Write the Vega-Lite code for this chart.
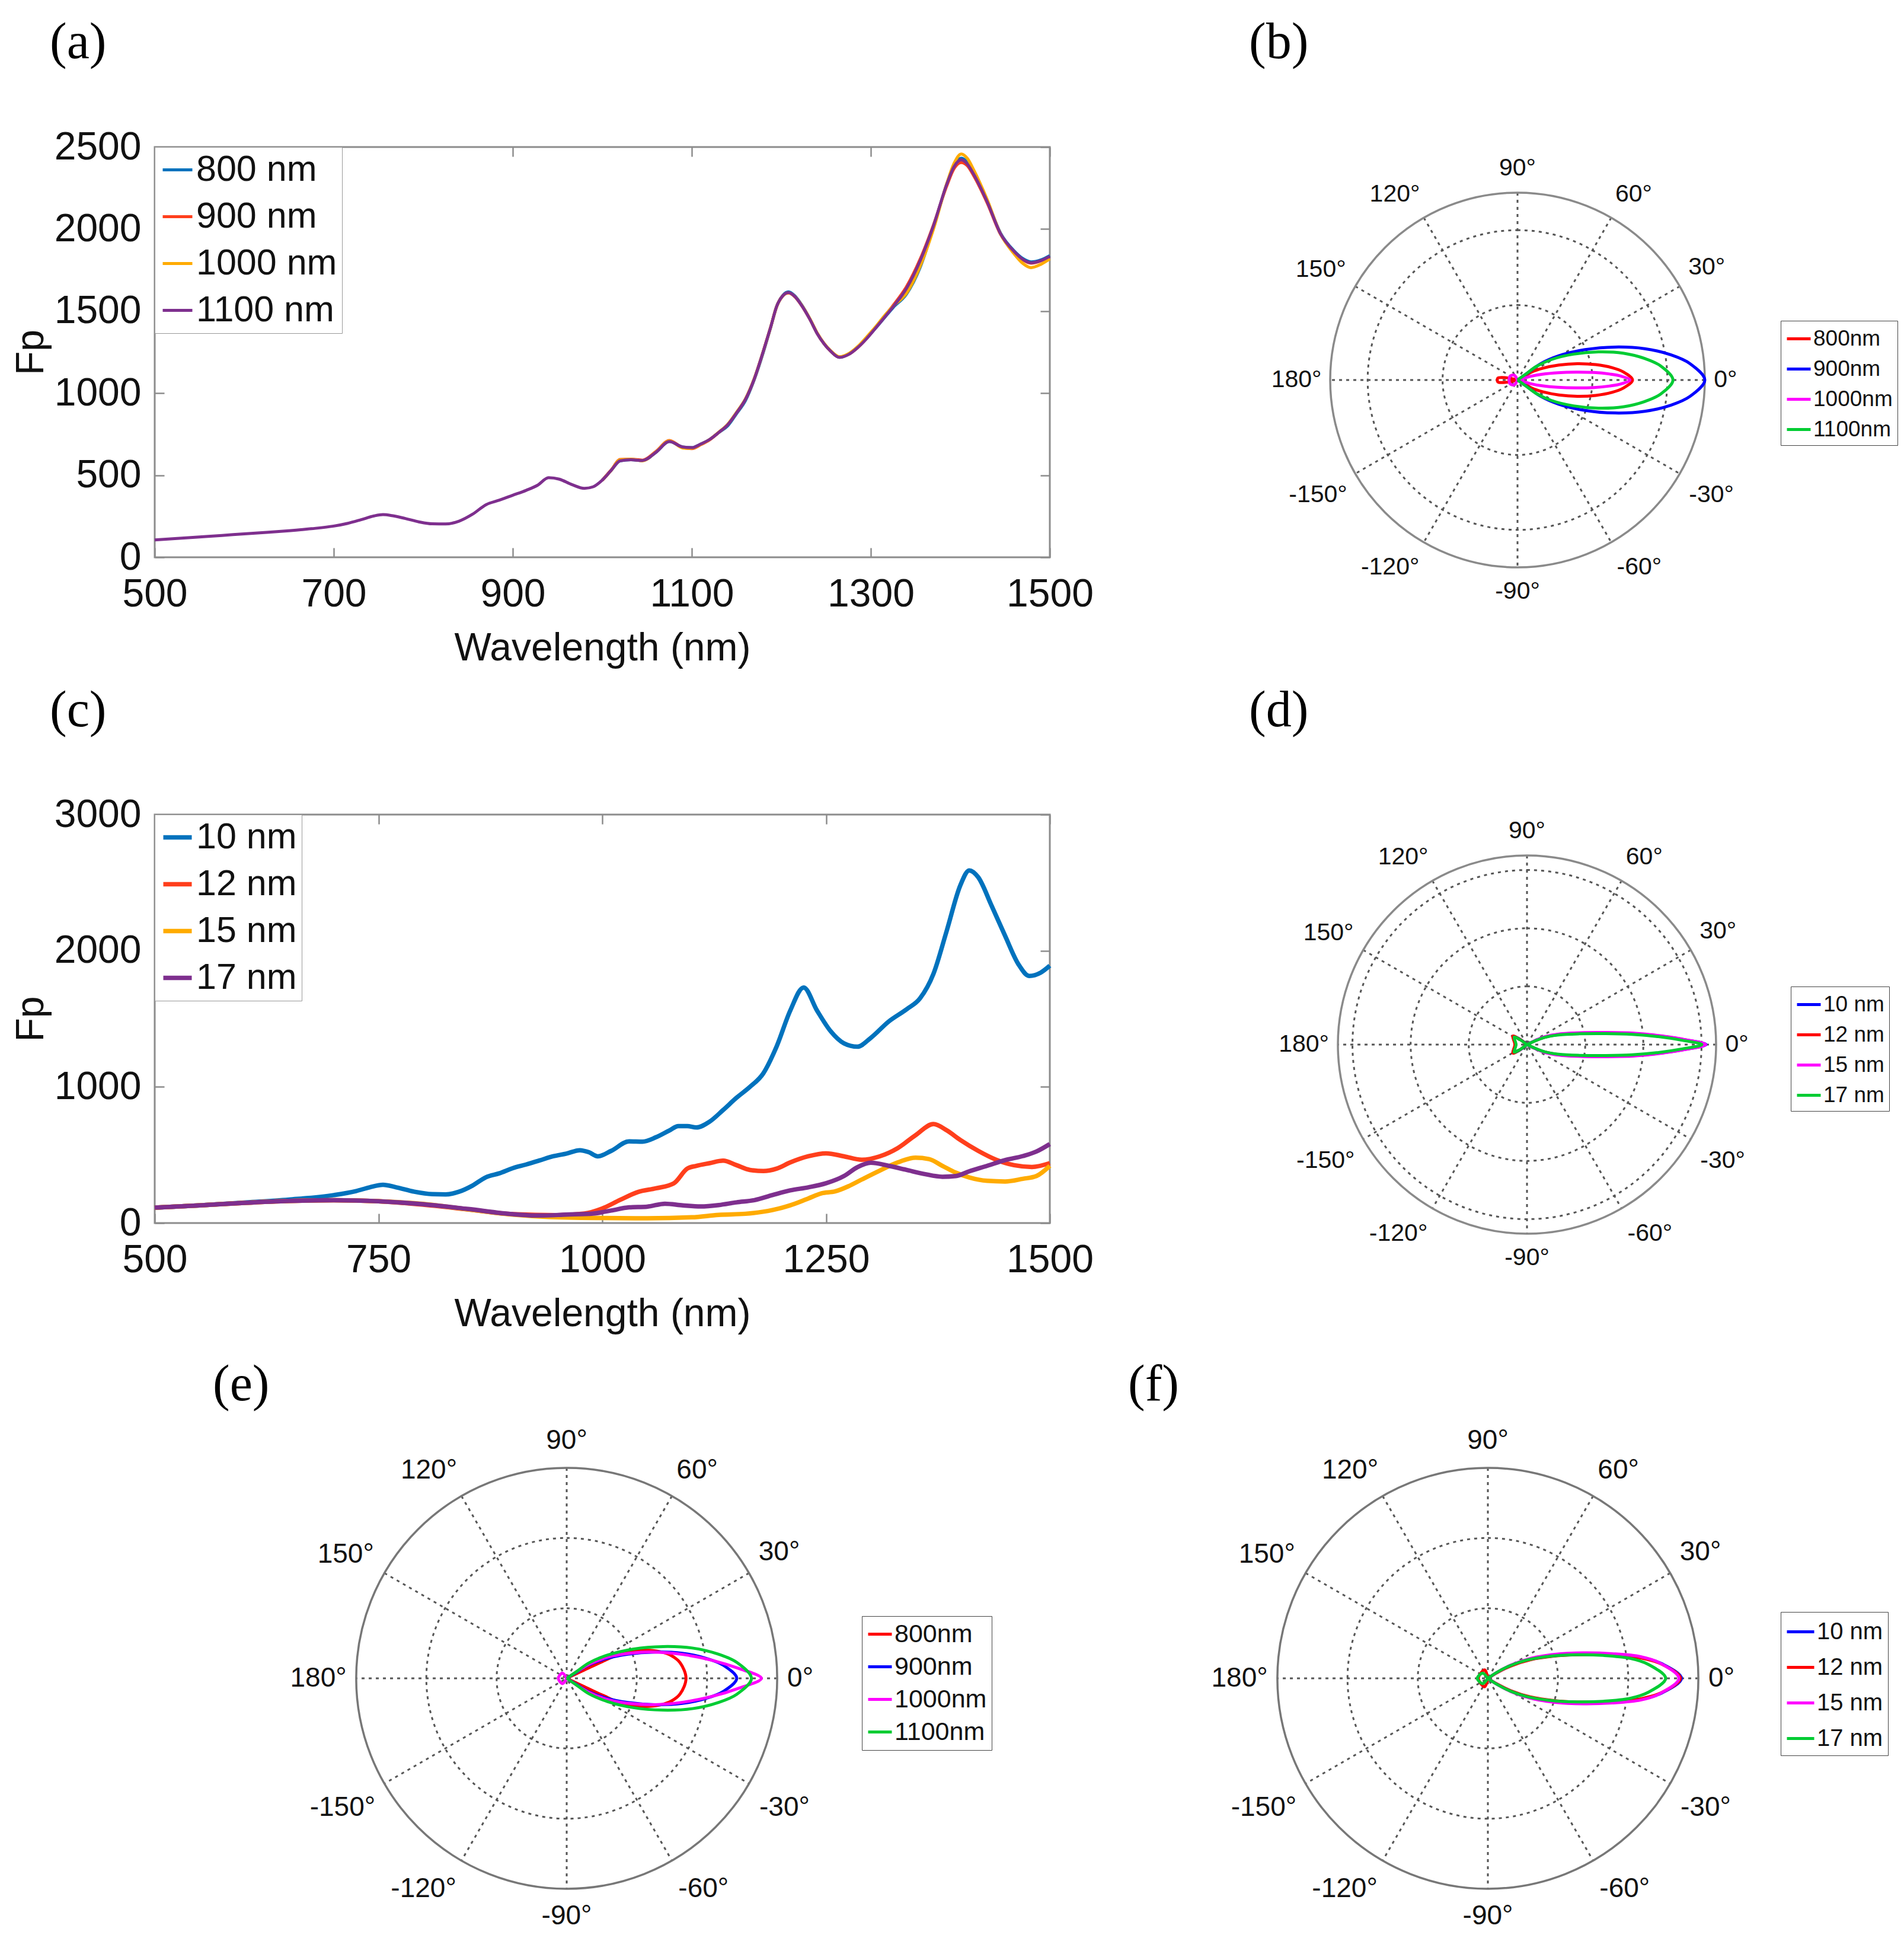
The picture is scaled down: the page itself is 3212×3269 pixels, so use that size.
{
  "$schema": "https://vega.github.io/schema/vega-lite/v6.json",
  "background": "#ffffff",
  "padding": {"left": 17, "top": 27, "right": 0, "bottom": 0},
  "config": {
    "font": "Liberation Sans",
    "view": {"stroke": null},
    "axis": {"labelFont": "Liberation Sans", "titleFont": "Liberation Sans"},
    "legend": {"labelFont": "Liberation Sans", "labelLimit": 0}
  },
  "datasets": {
    "la": [
      {"w":1000,"s":"800 nm","f":470},{"w":1010,"s":"800 nm","f":530},{"w":1020,"s":"800 nm","f":588},{"w":1032,"s":"800 nm","f":594},{"w":1045,"s":"800 nm","f":590},{"w":1060,"s":"800 nm","f":640},{"w":1075,"s":"800 nm","f":705},{"w":1090,"s":"800 nm","f":672},{"w":1100,"s":"800 nm","f":668},{"w":1110,"s":"800 nm","f":690},{"w":1120,"s":"800 nm","f":718},{"w":1130,"s":"800 nm","f":760},{"w":1140,"s":"800 nm","f":800},{"w":1150,"s":"800 nm","f":875},{"w":1160,"s":"800 nm","f":955},{"w":1170,"s":"800 nm","f":1085},{"w":1180,"s":"800 nm","f":1250},{"w":1188,"s":"800 nm","f":1398},{"w":1195,"s":"800 nm","f":1531},{"w":1202,"s":"800 nm","f":1598},{"w":1208,"s":"800 nm","f":1618},{"w":1215,"s":"800 nm","f":1594},{"w":1222,"s":"800 nm","f":1545},{"w":1232,"s":"800 nm","f":1452},{"w":1240,"s":"800 nm","f":1365},{"w":1248,"s":"800 nm","f":1300},{"w":1255,"s":"800 nm","f":1257},{"w":1265,"s":"800 nm","f":1218},{"w":1275,"s":"800 nm","f":1238},{"w":1285,"s":"800 nm","f":1280},{"w":1295,"s":"800 nm","f":1333},{"w":1305,"s":"800 nm","f":1394},{"w":1315,"s":"800 nm","f":1458},{"w":1325,"s":"800 nm","f":1522},{"w":1340,"s":"800 nm","f":1605},{"w":1355,"s":"800 nm","f":1765},{"w":1370,"s":"800 nm","f":2010},{"w":1385,"s":"800 nm","f":2275},{"w":1393,"s":"800 nm","f":2385},{"w":1401,"s":"800 nm","f":2432},{"w":1408,"s":"800 nm","f":2405},{"w":1415,"s":"800 nm","f":2340},{"w":1430,"s":"800 nm","f":2170},{"w":1445,"s":"800 nm","f":1975},{"w":1460,"s":"800 nm","f":1868},{"w":1470,"s":"800 nm","f":1820},{"w":1479,"s":"800 nm","f":1800},{"w":1490,"s":"800 nm","f":1812},{"w":1500,"s":"800 nm","f":1838},
      {"w":1000,"s":"900 nm","f":470},{"w":1010,"s":"900 nm","f":532},{"w":1020,"s":"900 nm","f":596},{"w":1032,"s":"900 nm","f":598},{"w":1045,"s":"900 nm","f":592},{"w":1060,"s":"900 nm","f":645},{"w":1075,"s":"900 nm","f":712},{"w":1090,"s":"900 nm","f":668},{"w":1100,"s":"900 nm","f":662},{"w":1110,"s":"900 nm","f":686},{"w":1120,"s":"900 nm","f":716},{"w":1130,"s":"900 nm","f":760},{"w":1140,"s":"900 nm","f":807},{"w":1150,"s":"900 nm","f":880},{"w":1160,"s":"900 nm","f":963},{"w":1170,"s":"900 nm","f":1090},{"w":1180,"s":"900 nm","f":1257},{"w":1188,"s":"900 nm","f":1400},{"w":1195,"s":"900 nm","f":1531},{"w":1202,"s":"900 nm","f":1595},{"w":1208,"s":"900 nm","f":1610},{"w":1215,"s":"900 nm","f":1588},{"w":1222,"s":"900 nm","f":1540},{"w":1232,"s":"900 nm","f":1450},{"w":1240,"s":"900 nm","f":1365},{"w":1248,"s":"900 nm","f":1300},{"w":1255,"s":"900 nm","f":1257},{"w":1265,"s":"900 nm","f":1220},{"w":1275,"s":"900 nm","f":1236},{"w":1285,"s":"900 nm","f":1276},{"w":1295,"s":"900 nm","f":1332},{"w":1305,"s":"900 nm","f":1398},{"w":1315,"s":"900 nm","f":1466},{"w":1325,"s":"900 nm","f":1535},{"w":1340,"s":"900 nm","f":1650},{"w":1355,"s":"900 nm","f":1815},{"w":1370,"s":"900 nm","f":2025},{"w":1385,"s":"900 nm","f":2265},{"w":1393,"s":"900 nm","f":2368},{"w":1401,"s":"900 nm","f":2405},{"w":1408,"s":"900 nm","f":2385},{"w":1415,"s":"900 nm","f":2325},{"w":1430,"s":"900 nm","f":2160},{"w":1445,"s":"900 nm","f":1968},{"w":1460,"s":"900 nm","f":1862},{"w":1470,"s":"900 nm","f":1812},{"w":1479,"s":"900 nm","f":1792},{"w":1490,"s":"900 nm","f":1806},{"w":1500,"s":"900 nm","f":1832},
      {"w":1000,"s":"1000 nm","f":468},{"w":1010,"s":"1000 nm","f":530},{"w":1020,"s":"1000 nm","f":594},{"w":1032,"s":"1000 nm","f":597},{"w":1045,"s":"1000 nm","f":588},{"w":1060,"s":"1000 nm","f":642},{"w":1075,"s":"1000 nm","f":710},{"w":1090,"s":"1000 nm","f":666},{"w":1100,"s":"1000 nm","f":664},{"w":1110,"s":"1000 nm","f":688},{"w":1120,"s":"1000 nm","f":718},{"w":1130,"s":"1000 nm","f":762},{"w":1140,"s":"1000 nm","f":810},{"w":1150,"s":"1000 nm","f":884},{"w":1160,"s":"1000 nm","f":966},{"w":1170,"s":"1000 nm","f":1092},{"w":1180,"s":"1000 nm","f":1257},{"w":1188,"s":"1000 nm","f":1400},{"w":1195,"s":"1000 nm","f":1530},{"w":1202,"s":"1000 nm","f":1594},{"w":1208,"s":"1000 nm","f":1612},{"w":1215,"s":"1000 nm","f":1590},{"w":1222,"s":"1000 nm","f":1543},{"w":1232,"s":"1000 nm","f":1453},{"w":1240,"s":"1000 nm","f":1368},{"w":1248,"s":"1000 nm","f":1302},{"w":1255,"s":"1000 nm","f":1260},{"w":1265,"s":"1000 nm","f":1222},{"w":1275,"s":"1000 nm","f":1240},{"w":1285,"s":"1000 nm","f":1282},{"w":1295,"s":"1000 nm","f":1340},{"w":1305,"s":"1000 nm","f":1402},{"w":1315,"s":"1000 nm","f":1470},{"w":1325,"s":"1000 nm","f":1530},{"w":1340,"s":"1000 nm","f":1610},{"w":1355,"s":"1000 nm","f":1772},{"w":1370,"s":"1000 nm","f":2000},{"w":1385,"s":"1000 nm","f":2280},{"w":1393,"s":"1000 nm","f":2400},{"w":1401,"s":"1000 nm","f":2458},{"w":1408,"s":"1000 nm","f":2430},{"w":1415,"s":"1000 nm","f":2360},{"w":1430,"s":"1000 nm","f":2180},{"w":1445,"s":"1000 nm","f":1970},{"w":1460,"s":"1000 nm","f":1850},{"w":1470,"s":"1000 nm","f":1790},{"w":1479,"s":"1000 nm","f":1765},{"w":1490,"s":"1000 nm","f":1785},{"w":1500,"s":"1000 nm","f":1818},
      {"w":500,"s":"1100 nm","f":106},{"w":525,"s":"1100 nm","f":115},{"w":550,"s":"1100 nm","f":124},{"w":575,"s":"1100 nm","f":133},{"w":600,"s":"1100 nm","f":143},{"w":625,"s":"1100 nm","f":152},{"w":650,"s":"1100 nm","f":162},{"w":675,"s":"1100 nm","f":174},{"w":700,"s":"1100 nm","f":190},{"w":715,"s":"1100 nm","f":206},{"w":730,"s":"1100 nm","f":228},{"w":745,"s":"1100 nm","f":252},{"w":755,"s":"1100 nm","f":260},{"w":765,"s":"1100 nm","f":254},{"w":780,"s":"1100 nm","f":236},{"w":795,"s":"1100 nm","f":216},{"w":810,"s":"1100 nm","f":204},{"w":825,"s":"1100 nm","f":203},{"w":840,"s":"1100 nm","f":220},{"w":855,"s":"1100 nm","f":262},{"w":870,"s":"1100 nm","f":320},{"w":885,"s":"1100 nm","f":348},{"w":900,"s":"1100 nm","f":378},{"w":915,"s":"1100 nm","f":408},{"w":928,"s":"1100 nm","f":440},{"w":940,"s":"1100 nm","f":485},{"w":952,"s":"1100 nm","f":476},{"w":966,"s":"1100 nm","f":443},{"w":980,"s":"1100 nm","f":420},{"w":990,"s":"1100 nm","f":430},
      {"w":1000,"s":"1100 nm","f":470},{"w":1010,"s":"1100 nm","f":530},{"w":1020,"s":"1100 nm","f":588},{"w":1032,"s":"1100 nm","f":594},{"w":1045,"s":"1100 nm","f":590},{"w":1060,"s":"1100 nm","f":640},{"w":1075,"s":"1100 nm","f":705},{"w":1090,"s":"1100 nm","f":672},{"w":1100,"s":"1100 nm","f":668},{"w":1110,"s":"1100 nm","f":690},{"w":1120,"s":"1100 nm","f":718},{"w":1130,"s":"1100 nm","f":760},{"w":1140,"s":"1100 nm","f":807},{"w":1150,"s":"1100 nm","f":880},{"w":1160,"s":"1100 nm","f":963},{"w":1170,"s":"1100 nm","f":1090},{"w":1180,"s":"1100 nm","f":1257},{"w":1188,"s":"1100 nm","f":1400},{"w":1195,"s":"1100 nm","f":1531},{"w":1202,"s":"1100 nm","f":1595},{"w":1208,"s":"1100 nm","f":1613},{"w":1215,"s":"1100 nm","f":1590},{"w":1222,"s":"1100 nm","f":1541},{"w":1232,"s":"1100 nm","f":1450},{"w":1240,"s":"1100 nm","f":1365},{"w":1248,"s":"1100 nm","f":1300},{"w":1255,"s":"1100 nm","f":1257},{"w":1265,"s":"1100 nm","f":1218},{"w":1275,"s":"1100 nm","f":1235},{"w":1285,"s":"1100 nm","f":1276},{"w":1295,"s":"1100 nm","f":1330},{"w":1305,"s":"1100 nm","f":1394},{"w":1315,"s":"1100 nm","f":1460},{"w":1325,"s":"1100 nm","f":1527},{"w":1340,"s":"1100 nm","f":1639},{"w":1355,"s":"1100 nm","f":1805},{"w":1370,"s":"1100 nm","f":2020},{"w":1385,"s":"1100 nm","f":2275},{"w":1393,"s":"1100 nm","f":2380},{"w":1401,"s":"1100 nm","f":2422},{"w":1408,"s":"1100 nm","f":2395},{"w":1415,"s":"1100 nm","f":2334},{"w":1430,"s":"1100 nm","f":2167},{"w":1445,"s":"1100 nm","f":1971},{"w":1460,"s":"1100 nm","f":1864},{"w":1470,"s":"1100 nm","f":1815},{"w":1479,"s":"1100 nm","f":1795},{"w":1490,"s":"1100 nm","f":1808},{"w":1500,"s":"1100 nm","f":1834}
    ],
    "lc": [
      {"w":500,"s":"10 nm","f":113},{"w":550,"s":"10 nm","f":130},{"w":600,"s":"10 nm","f":150},{"w":650,"s":"10 nm","f":172},{"w":700,"s":"10 nm","f":205},{"w":725,"s":"10 nm","f":235},{"w":740,"s":"10 nm","f":262},{"w":755,"s":"10 nm","f":281},{"w":770,"s":"10 nm","f":262},{"w":790,"s":"10 nm","f":230},{"w":810,"s":"10 nm","f":212},{"w":825,"s":"10 nm","f":210},{"w":840,"s":"10 nm","f":230},{"w":855,"s":"10 nm","f":275},{"w":870,"s":"10 nm","f":336},{"w":885,"s":"10 nm","f":365},{"w":900,"s":"10 nm","f":403},{"w":915,"s":"10 nm","f":430},{"w":930,"s":"10 nm","f":460},{"w":945,"s":"10 nm","f":490},{"w":960,"s":"10 nm","f":510},{"w":975,"s":"10 nm","f":535},{"w":985,"s":"10 nm","f":520},{"w":995,"s":"10 nm","f":490},{"w":1010,"s":"10 nm","f":530},{"w":1030,"s":"10 nm","f":600},{"w":1045,"s":"10 nm","f":598},{"w":1060,"s":"10 nm","f":630},{"w":1075,"s":"10 nm","f":680},{"w":1085,"s":"10 nm","f":712},{"w":1095,"s":"10 nm","f":712},{"w":1105,"s":"10 nm","f":702},{"w":1120,"s":"10 nm","f":745},{"w":1135,"s":"10 nm","f":830},{"w":1150,"s":"10 nm","f":920},{"w":1165,"s":"10 nm","f":1000},{"w":1180,"s":"10 nm","f":1100},{"w":1195,"s":"10 nm","f":1300},{"w":1210,"s":"10 nm","f":1560},{"w":1225,"s":"10 nm","f":1730},{"w":1240,"s":"10 nm","f":1560},{"w":1255,"s":"10 nm","f":1410},{"w":1270,"s":"10 nm","f":1320},{"w":1285,"s":"10 nm","f":1295},{"w":1300,"s":"10 nm","f":1360},{"w":1320,"s":"10 nm","f":1480},{"w":1340,"s":"10 nm","f":1570},{"w":1355,"s":"10 nm","f":1650},{"w":1370,"s":"10 nm","f":1830},{"w":1385,"s":"10 nm","f":2150},{"w":1400,"s":"10 nm","f":2480},{"w":1410,"s":"10 nm","f":2590},{"w":1420,"s":"10 nm","f":2540},{"w":1435,"s":"10 nm","f":2330},{"w":1450,"s":"10 nm","f":2110},{"w":1465,"s":"10 nm","f":1900},{"w":1477,"s":"10 nm","f":1815},{"w":1490,"s":"10 nm","f":1840},{"w":1500,"s":"10 nm","f":1890},
      {"w":500,"s":"12 nm","f":113},{"w":550,"s":"12 nm","f":130},{"w":600,"s":"12 nm","f":148},{"w":650,"s":"12 nm","f":162},{"w":700,"s":"12 nm","f":168},{"w":750,"s":"12 nm","f":160},{"w":800,"s":"12 nm","f":135},{"w":850,"s":"12 nm","f":100},{"w":900,"s":"12 nm","f":65},{"w":950,"s":"12 nm","f":58},{"w":980,"s":"12 nm","f":70},{"w":1000,"s":"12 nm","f":107},{"w":1020,"s":"12 nm","f":170},{"w":1040,"s":"12 nm","f":228},{"w":1060,"s":"12 nm","f":255},{"w":1080,"s":"12 nm","f":292},{"w":1095,"s":"12 nm","f":400},{"w":1105,"s":"12 nm","f":420},{"w":1120,"s":"12 nm","f":440},{"w":1135,"s":"12 nm","f":458},{"w":1150,"s":"12 nm","f":425},{"w":1165,"s":"12 nm","f":390},{"w":1180,"s":"12 nm","f":382},{"w":1195,"s":"12 nm","f":400},{"w":1210,"s":"12 nm","f":445},{"w":1230,"s":"12 nm","f":490},{"w":1250,"s":"12 nm","f":512},{"w":1270,"s":"12 nm","f":490},{"w":1290,"s":"12 nm","f":465},{"w":1310,"s":"12 nm","f":490},{"w":1330,"s":"12 nm","f":550},{"w":1350,"s":"12 nm","f":645},{"w":1370,"s":"12 nm","f":727},{"w":1385,"s":"12 nm","f":680},{"w":1400,"s":"12 nm","f":610},{"w":1420,"s":"12 nm","f":530},{"w":1440,"s":"12 nm","f":465},{"w":1460,"s":"12 nm","f":425},{"w":1480,"s":"12 nm","f":412},{"w":1500,"s":"12 nm","f":440},
      {"w":500,"s":"15 nm","f":113},{"w":550,"s":"15 nm","f":130},{"w":600,"s":"15 nm","f":148},{"w":650,"s":"15 nm","f":162},{"w":700,"s":"15 nm","f":168},{"w":750,"s":"15 nm","f":160},{"w":800,"s":"15 nm","f":140},{"w":850,"s":"15 nm","f":100},{"w":900,"s":"15 nm","f":62},{"w":940,"s":"15 nm","f":45},{"w":1000,"s":"15 nm","f":37},{"w":1050,"s":"15 nm","f":35},{"w":1100,"s":"15 nm","f":42},{"w":1130,"s":"15 nm","f":60},{"w":1160,"s":"15 nm","f":68},{"w":1190,"s":"15 nm","f":95},{"w":1210,"s":"15 nm","f":130},{"w":1230,"s":"15 nm","f":180},{"w":1245,"s":"15 nm","f":218},{"w":1260,"s":"15 nm","f":232},{"w":1275,"s":"15 nm","f":270},{"w":1290,"s":"15 nm","f":320},{"w":1310,"s":"15 nm","f":385},{"w":1330,"s":"15 nm","f":445},{"w":1350,"s":"15 nm","f":480},{"w":1365,"s":"15 nm","f":470},{"w":1380,"s":"15 nm","f":420},{"w":1395,"s":"15 nm","f":370},{"w":1410,"s":"15 nm","f":335},{"w":1430,"s":"15 nm","f":310},{"w":1450,"s":"15 nm","f":305},{"w":1470,"s":"15 nm","f":325},{"w":1485,"s":"15 nm","f":345},{"w":1500,"s":"15 nm","f":420},
      {"w":500,"s":"17 nm","f":113},{"w":550,"s":"17 nm","f":130},{"w":600,"s":"17 nm","f":148},{"w":650,"s":"17 nm","f":162},{"w":700,"s":"17 nm","f":168},{"w":750,"s":"17 nm","f":160},{"w":800,"s":"17 nm","f":138},{"w":850,"s":"17 nm","f":103},{"w":900,"s":"17 nm","f":65},{"w":930,"s":"17 nm","f":55},{"w":960,"s":"17 nm","f":62},{"w":990,"s":"17 nm","f":70},{"w":1010,"s":"17 nm","f":92},{"w":1030,"s":"17 nm","f":115},{"w":1050,"s":"17 nm","f":120},{"w":1070,"s":"17 nm","f":142},{"w":1090,"s":"17 nm","f":130},{"w":1110,"s":"17 nm","f":122},{"w":1130,"s":"17 nm","f":132},{"w":1150,"s":"17 nm","f":152},{"w":1170,"s":"17 nm","f":168},{"w":1190,"s":"17 nm","f":205},{"w":1210,"s":"17 nm","f":240},{"w":1230,"s":"17 nm","f":262},{"w":1250,"s":"17 nm","f":292},{"w":1270,"s":"17 nm","f":345},{"w":1285,"s":"17 nm","f":410},{"w":1300,"s":"17 nm","f":443},{"w":1320,"s":"17 nm","f":420},{"w":1340,"s":"17 nm","f":390},{"w":1360,"s":"17 nm","f":360},{"w":1380,"s":"17 nm","f":340},{"w":1395,"s":"17 nm","f":345},{"w":1410,"s":"17 nm","f":380},{"w":1430,"s":"17 nm","f":420},{"w":1450,"s":"17 nm","f":462},{"w":1470,"s":"17 nm","f":492},{"w":1485,"s":"17 nm","f":525},{"w":1500,"s":"17 nm","f":580}
    ],
    "spk": [
      {"x":1,"y":0,"x2":-1,"y2":0},
      {"x":0.866,"y":0.5,"x2":-0.866,"y2":-0.5},
      {"x":0.5,"y":0.866,"x2":-0.5,"y2":-0.866},
      {"x":0,"y":1,"x2":0,"y2":-1},
      {"x":-0.5,"y":0.866,"x2":0.5,"y2":-0.866},
      {"x":-0.866,"y":0.5,"x2":0.866,"y2":-0.5}
    ],
    "lab": [
      {"t":"0°","x":1.11,"y":0},
      {"t":"30°","x":1.01,"y":0.6},
      {"t":"60°","x":0.62,"y":0.99},
      {"t":"90°","x":0,"y":1.13},
      {"t":"120°","x":-0.655,"y":0.99},
      {"t":"150°","x":-1.05,"y":0.59},
      {"t":"180°","x":-1.18,"y":0},
      {"t":"-150°","x":-1.065,"y":-0.615},
      {"t":"-120°","x":-0.68,"y":-1.0},
      {"t":"-90°","x":0,"y":-1.13},
      {"t":"-60°","x":0.65,"y":-1.0},
      {"t":"-30°","x":1.035,"y":-0.615}
    ],
    "ro": [{"r":1,"x":0,"y":0}],
    "rb": [{"r":0.4,"x":0,"y":0},{"r":0.8,"x":0,"y":0}],
    "rd": [{"r":0.308,"x":0,"y":0},{"r":0.615,"x":0,"y":0},{"r":0.923,"x":0,"y":0}],
    "re": [{"r":0.333,"x":0,"y":0},{"r":0.667,"x":0,"y":0}],
    "pb": [
      {"s":"800nm","p":"m","i":0,"x":0,"y":0},{"s":"800nm","p":"m","i":1,"x":0.031,"y":0.017},{"s":"800nm","p":"m","i":2,"x":0.074,"y":0.042},{"s":"800nm","p":"m","i":3,"x":0.135,"y":0.063},{"s":"800nm","p":"m","i":4,"x":0.221,"y":0.08},{"s":"800nm","p":"m","i":5,"x":0.319,"y":0.087},{"s":"800nm","p":"m","i":6,"x":0.418,"y":0.082},{"s":"800nm","p":"m","i":7,"x":0.504,"y":0.066},{"s":"800nm","p":"m","i":8,"x":0.565,"y":0.043},{"s":"800nm","p":"m","i":9,"x":0.614,"y":0},{"s":"800nm","p":"m","i":10,"x":0.565,"y":-0.043},{"s":"800nm","p":"m","i":11,"x":0.504,"y":-0.066},{"s":"800nm","p":"m","i":12,"x":0.418,"y":-0.082},{"s":"800nm","p":"m","i":13,"x":0.319,"y":-0.087},{"s":"800nm","p":"m","i":14,"x":0.221,"y":-0.08},{"s":"800nm","p":"m","i":15,"x":0.135,"y":-0.063},{"s":"800nm","p":"m","i":16,"x":0.074,"y":-0.042},{"s":"800nm","p":"m","i":17,"x":0.031,"y":-0.017},{"s":"800nm","p":"m","i":18,"x":0,"y":0},
      {"s":"800nm","p":"b","i":0,"x":0,"y":0},{"s":"800nm","p":"b","i":1,"x":-0.06,"y":0.012},{"s":"800nm","p":"b","i":2,"x":-0.105,"y":0.01},{"s":"800nm","p":"b","i":3,"x":-0.105,"y":-0.01},{"s":"800nm","p":"b","i":4,"x":-0.06,"y":-0.012},{"s":"800nm","p":"b","i":5,"x":0,"y":0},
      {"s":"900nm","p":"m","i":0,"x":0,"y":0},{"s":"900nm","p":"m","i":1,"x":0.05,"y":0.035},{"s":"900nm","p":"m","i":2,"x":0.12,"y":0.085},{"s":"900nm","p":"m","i":3,"x":0.22,"y":0.129},{"s":"900nm","p":"m","i":4,"x":0.36,"y":0.162},{"s":"900nm","p":"m","i":5,"x":0.52,"y":0.176},{"s":"900nm","p":"m","i":6,"x":0.68,"y":0.167},{"s":"900nm","p":"m","i":7,"x":0.82,"y":0.134},{"s":"900nm","p":"m","i":8,"x":0.92,"y":0.088},{"s":"900nm","p":"m","i":9,"x":1.0,"y":0},{"s":"900nm","p":"m","i":10,"x":0.92,"y":-0.088},{"s":"900nm","p":"m","i":11,"x":0.82,"y":-0.134},{"s":"900nm","p":"m","i":12,"x":0.68,"y":-0.167},{"s":"900nm","p":"m","i":13,"x":0.52,"y":-0.176},{"s":"900nm","p":"m","i":14,"x":0.36,"y":-0.162},{"s":"900nm","p":"m","i":15,"x":0.22,"y":-0.129},{"s":"900nm","p":"m","i":16,"x":0.12,"y":-0.085},{"s":"900nm","p":"m","i":17,"x":0.05,"y":-0.035},{"s":"900nm","p":"m","i":18,"x":0,"y":0},
      {"s":"1000nm","p":"m","i":0,"x":0,"y":0},{"s":"1000nm","p":"m","i":1,"x":0.03,"y":0.008},{"s":"1000nm","p":"m","i":2,"x":0.072,"y":0.02},{"s":"1000nm","p":"m","i":3,"x":0.132,"y":0.031},{"s":"1000nm","p":"m","i":4,"x":0.216,"y":0.039},{"s":"1000nm","p":"m","i":5,"x":0.312,"y":0.042},{"s":"1000nm","p":"m","i":6,"x":0.408,"y":0.04},{"s":"1000nm","p":"m","i":7,"x":0.492,"y":0.032},{"s":"1000nm","p":"m","i":8,"x":0.552,"y":0.021},{"s":"1000nm","p":"m","i":9,"x":0.6,"y":0},{"s":"1000nm","p":"m","i":10,"x":0.552,"y":-0.021},{"s":"1000nm","p":"m","i":11,"x":0.492,"y":-0.032},{"s":"1000nm","p":"m","i":12,"x":0.408,"y":-0.04},{"s":"1000nm","p":"m","i":13,"x":0.312,"y":-0.042},{"s":"1000nm","p":"m","i":14,"x":0.216,"y":-0.039},{"s":"1000nm","p":"m","i":15,"x":0.132,"y":-0.031},{"s":"1000nm","p":"m","i":16,"x":0.072,"y":-0.02},{"s":"1000nm","p":"m","i":17,"x":0.03,"y":-0.008},{"s":"1000nm","p":"m","i":18,"x":0,"y":0},
      {"s":"1000nm","p":"b","i":0,"x":0,"y":0},{"s":"1000nm","p":"b","i":1,"x":-0.018,"y":0.026},{"s":"1000nm","p":"b","i":2,"x":-0.04,"y":0.02},{"s":"1000nm","p":"b","i":3,"x":-0.045,"y":0},{"s":"1000nm","p":"b","i":4,"x":-0.04,"y":-0.02},{"s":"1000nm","p":"b","i":5,"x":-0.018,"y":-0.026},{"s":"1000nm","p":"b","i":6,"x":0,"y":0},
      {"s":"1100nm","p":"m","i":0,"x":0,"y":0},{"s":"1100nm","p":"m","i":1,"x":0.042,"y":0.03},{"s":"1100nm","p":"m","i":2,"x":0.1,"y":0.072},{"s":"1100nm","p":"m","i":3,"x":0.183,"y":0.11},{"s":"1100nm","p":"m","i":4,"x":0.299,"y":0.138},{"s":"1100nm","p":"m","i":5,"x":0.432,"y":0.15},{"s":"1100nm","p":"m","i":6,"x":0.564,"y":0.143},{"s":"1100nm","p":"m","i":7,"x":0.681,"y":0.114},{"s":"1100nm","p":"m","i":8,"x":0.764,"y":0.075},{"s":"1100nm","p":"m","i":9,"x":0.83,"y":0},{"s":"1100nm","p":"m","i":10,"x":0.764,"y":-0.075},{"s":"1100nm","p":"m","i":11,"x":0.681,"y":-0.114},{"s":"1100nm","p":"m","i":12,"x":0.564,"y":-0.143},{"s":"1100nm","p":"m","i":13,"x":0.432,"y":-0.15},{"s":"1100nm","p":"m","i":14,"x":0.299,"y":-0.138},{"s":"1100nm","p":"m","i":15,"x":0.183,"y":-0.11},{"s":"1100nm","p":"m","i":16,"x":0.1,"y":-0.072},{"s":"1100nm","p":"m","i":17,"x":0.042,"y":-0.03},{"s":"1100nm","p":"m","i":18,"x":0,"y":0}
    ],
    "pd": [
      {"s":"10 nm","p":"m","i":0,"x":0,"y":0},{"s":"10 nm","p":"m","i":1,"x":0.038,"y":0.019},{"s":"10 nm","p":"m","i":2,"x":0.095,"y":0.04},{"s":"10 nm","p":"m","i":3,"x":0.17,"y":0.055},{"s":"10 nm","p":"m","i":4,"x":0.284,"y":0.061},{"s":"10 nm","p":"m","i":5,"x":0.426,"y":0.062},{"s":"10 nm","p":"m","i":6,"x":0.568,"y":0.058},{"s":"10 nm","p":"m","i":7,"x":0.71,"y":0.045},{"s":"10 nm","p":"m","i":8,"x":0.833,"y":0.026},{"s":"10 nm","p":"m","i":9,"x":0.947,"y":0},{"s":"10 nm","p":"m","i":10,"x":0.833,"y":-0.026},{"s":"10 nm","p":"m","i":11,"x":0.71,"y":-0.045},{"s":"10 nm","p":"m","i":12,"x":0.568,"y":-0.058},{"s":"10 nm","p":"m","i":13,"x":0.426,"y":-0.062},{"s":"10 nm","p":"m","i":14,"x":0.284,"y":-0.061},{"s":"10 nm","p":"m","i":15,"x":0.17,"y":-0.055},{"s":"10 nm","p":"m","i":16,"x":0.095,"y":-0.04},{"s":"10 nm","p":"m","i":17,"x":0.038,"y":-0.019},{"s":"10 nm","p":"m","i":18,"x":0,"y":0},
      {"s":"10 nm","p":"b","i":0,"x":0,"y":0},{"s":"10 nm","p":"b","i":1,"x":-0.04,"y":0.03},{"s":"10 nm","p":"b","i":2,"x":-0.07,"y":0.042},{"s":"10 nm","p":"b","i":3,"x":-0.06,"y":0},{"s":"10 nm","p":"b","i":4,"x":-0.07,"y":-0.042},{"s":"10 nm","p":"b","i":5,"x":-0.04,"y":-0.03},{"s":"10 nm","p":"b","i":6,"x":0,"y":0},
      {"s":"12 nm","p":"m","i":0,"x":0,"y":0},{"s":"12 nm","p":"m","i":1,"x":0.038,"y":0.018},{"s":"12 nm","p":"m","i":2,"x":0.094,"y":0.039},{"s":"12 nm","p":"m","i":3,"x":0.169,"y":0.053},{"s":"12 nm","p":"m","i":4,"x":0.282,"y":0.059},{"s":"12 nm","p":"m","i":5,"x":0.423,"y":0.06},{"s":"12 nm","p":"m","i":6,"x":0.564,"y":0.056},{"s":"12 nm","p":"m","i":7,"x":0.705,"y":0.043},{"s":"12 nm","p":"m","i":8,"x":0.827,"y":0.025},{"s":"12 nm","p":"m","i":9,"x":0.94,"y":0},{"s":"12 nm","p":"m","i":10,"x":0.827,"y":-0.025},{"s":"12 nm","p":"m","i":11,"x":0.705,"y":-0.043},{"s":"12 nm","p":"m","i":12,"x":0.564,"y":-0.056},{"s":"12 nm","p":"m","i":13,"x":0.423,"y":-0.06},{"s":"12 nm","p":"m","i":14,"x":0.282,"y":-0.059},{"s":"12 nm","p":"m","i":15,"x":0.169,"y":-0.053},{"s":"12 nm","p":"m","i":16,"x":0.094,"y":-0.039},{"s":"12 nm","p":"m","i":17,"x":0.038,"y":-0.018},{"s":"12 nm","p":"m","i":18,"x":0,"y":0},
      {"s":"12 nm","p":"b","i":0,"x":0,"y":0},{"s":"12 nm","p":"b","i":1,"x":-0.045,"y":0.032},{"s":"12 nm","p":"b","i":2,"x":-0.075,"y":0.045},{"s":"12 nm","p":"b","i":3,"x":-0.064,"y":0},{"s":"12 nm","p":"b","i":4,"x":-0.075,"y":-0.045},{"s":"12 nm","p":"b","i":5,"x":-0.045,"y":-0.032},{"s":"12 nm","p":"b","i":6,"x":0,"y":0},
      {"s":"15 nm","p":"m","i":0,"x":0,"y":0},{"s":"15 nm","p":"m","i":1,"x":0.038,"y":0.019},{"s":"15 nm","p":"m","i":2,"x":0.095,"y":0.042},{"s":"15 nm","p":"m","i":3,"x":0.17,"y":0.056},{"s":"15 nm","p":"m","i":4,"x":0.284,"y":0.063},{"s":"15 nm","p":"m","i":5,"x":0.425,"y":0.064},{"s":"15 nm","p":"m","i":6,"x":0.567,"y":0.06},{"s":"15 nm","p":"m","i":7,"x":0.709,"y":0.046},{"s":"15 nm","p":"m","i":8,"x":0.832,"y":0.027},{"s":"15 nm","p":"m","i":9,"x":0.945,"y":0},{"s":"15 nm","p":"m","i":10,"x":0.832,"y":-0.027},{"s":"15 nm","p":"m","i":11,"x":0.709,"y":-0.046},{"s":"15 nm","p":"m","i":12,"x":0.567,"y":-0.06},{"s":"15 nm","p":"m","i":13,"x":0.425,"y":-0.064},{"s":"15 nm","p":"m","i":14,"x":0.284,"y":-0.063},{"s":"15 nm","p":"m","i":15,"x":0.17,"y":-0.056},{"s":"15 nm","p":"m","i":16,"x":0.095,"y":-0.042},{"s":"15 nm","p":"m","i":17,"x":0.038,"y":-0.019},{"s":"15 nm","p":"m","i":18,"x":0,"y":0},
      {"s":"17 nm","p":"m","i":0,"x":0,"y":0},{"s":"17 nm","p":"m","i":1,"x":0.037,"y":0.017},{"s":"17 nm","p":"m","i":2,"x":0.093,"y":0.038},{"s":"17 nm","p":"m","i":3,"x":0.167,"y":0.051},{"s":"17 nm","p":"m","i":4,"x":0.278,"y":0.057},{"s":"17 nm","p":"m","i":5,"x":0.416,"y":0.058},{"s":"17 nm","p":"m","i":6,"x":0.555,"y":0.054},{"s":"17 nm","p":"m","i":7,"x":0.694,"y":0.042},{"s":"17 nm","p":"m","i":8,"x":0.814,"y":0.024},{"s":"17 nm","p":"m","i":9,"x":0.925,"y":0},{"s":"17 nm","p":"m","i":10,"x":0.814,"y":-0.024},{"s":"17 nm","p":"m","i":11,"x":0.694,"y":-0.042},{"s":"17 nm","p":"m","i":12,"x":0.555,"y":-0.054},{"s":"17 nm","p":"m","i":13,"x":0.416,"y":-0.058},{"s":"17 nm","p":"m","i":14,"x":0.278,"y":-0.057},{"s":"17 nm","p":"m","i":15,"x":0.167,"y":-0.051},{"s":"17 nm","p":"m","i":16,"x":0.093,"y":-0.038},{"s":"17 nm","p":"m","i":17,"x":0.037,"y":-0.017},{"s":"17 nm","p":"m","i":18,"x":0,"y":0},
      {"s":"17 nm","p":"b","i":0,"x":0,"y":0},{"s":"17 nm","p":"b","i":1,"x":-0.04,"y":0.028},{"s":"17 nm","p":"b","i":2,"x":-0.068,"y":0.04},{"s":"17 nm","p":"b","i":3,"x":-0.058,"y":0},{"s":"17 nm","p":"b","i":4,"x":-0.068,"y":-0.04},{"s":"17 nm","p":"b","i":5,"x":-0.04,"y":-0.028},{"s":"17 nm","p":"b","i":6,"x":0,"y":0}
    ],
    "pe": [
      {"s":"800nm","p":"m","i":0,"x":0,"y":0},{"s":"800nm","p":"m","i":1,"x":0.085,"y":0.04},{"s":"800nm","p":"m","i":2,"x":0.17,"y":0.08},{"s":"800nm","p":"m","i":3,"x":0.284,"y":0.127},{"s":"800nm","p":"m","i":4,"x":0.369,"y":0.134},{"s":"800nm","p":"m","i":5,"x":0.442,"y":0.127},{"s":"800nm","p":"m","i":6,"x":0.499,"y":0.107},{"s":"800nm","p":"m","i":7,"x":0.539,"y":0.074},{"s":"800nm","p":"m","i":8,"x":0.567,"y":0},{"s":"800nm","p":"m","i":9,"x":0.539,"y":-0.074},{"s":"800nm","p":"m","i":10,"x":0.499,"y":-0.107},{"s":"800nm","p":"m","i":11,"x":0.442,"y":-0.127},{"s":"800nm","p":"m","i":12,"x":0.369,"y":-0.134},{"s":"800nm","p":"m","i":13,"x":0.284,"y":-0.127},{"s":"800nm","p":"m","i":14,"x":0.17,"y":-0.08},{"s":"800nm","p":"m","i":15,"x":0.085,"y":-0.04},{"s":"800nm","p":"m","i":16,"x":0,"y":0},
      {"s":"900nm","p":"m","i":0,"x":0,"y":0},{"s":"900nm","p":"m","i":1,"x":0.04,"y":0.025},{"s":"900nm","p":"m","i":2,"x":0.097,"y":0.06},{"s":"900nm","p":"m","i":3,"x":0.178,"y":0.091},{"s":"900nm","p":"m","i":4,"x":0.291,"y":0.115},{"s":"900nm","p":"m","i":5,"x":0.42,"y":0.125},{"s":"900nm","p":"m","i":6,"x":0.549,"y":0.119},{"s":"900nm","p":"m","i":7,"x":0.663,"y":0.095},{"s":"900nm","p":"m","i":8,"x":0.743,"y":0.063},{"s":"900nm","p":"m","i":9,"x":0.808,"y":0},{"s":"900nm","p":"m","i":10,"x":0.743,"y":-0.063},{"s":"900nm","p":"m","i":11,"x":0.663,"y":-0.095},{"s":"900nm","p":"m","i":12,"x":0.549,"y":-0.119},{"s":"900nm","p":"m","i":13,"x":0.42,"y":-0.125},{"s":"900nm","p":"m","i":14,"x":0.291,"y":-0.115},{"s":"900nm","p":"m","i":15,"x":0.178,"y":-0.091},{"s":"900nm","p":"m","i":16,"x":0.097,"y":-0.06},{"s":"900nm","p":"m","i":17,"x":0.04,"y":-0.025},{"s":"900nm","p":"m","i":18,"x":0,"y":0},
      {"s":"1000nm","p":"m","i":0,"x":0,"y":0},{"s":"1000nm","p":"m","i":1,"x":0.046,"y":0.031},{"s":"1000nm","p":"m","i":2,"x":0.111,"y":0.069},{"s":"1000nm","p":"m","i":3,"x":0.204,"y":0.103},{"s":"1000nm","p":"m","i":4,"x":0.305,"y":0.12},{"s":"1000nm","p":"m","i":5,"x":0.416,"y":0.125},{"s":"1000nm","p":"m","i":6,"x":0.555,"y":0.113},{"s":"1000nm","p":"m","i":7,"x":0.694,"y":0.085},{"s":"1000nm","p":"m","i":8,"x":0.814,"y":0.048},{"s":"1000nm","p":"m","i":9,"x":0.925,"y":0},{"s":"1000nm","p":"m","i":10,"x":0.814,"y":-0.048},{"s":"1000nm","p":"m","i":11,"x":0.694,"y":-0.085},{"s":"1000nm","p":"m","i":12,"x":0.555,"y":-0.113},{"s":"1000nm","p":"m","i":13,"x":0.416,"y":-0.125},{"s":"1000nm","p":"m","i":14,"x":0.305,"y":-0.12},{"s":"1000nm","p":"m","i":15,"x":0.204,"y":-0.103},{"s":"1000nm","p":"m","i":16,"x":0.111,"y":-0.069},{"s":"1000nm","p":"m","i":17,"x":0.046,"y":-0.031},{"s":"1000nm","p":"m","i":18,"x":0,"y":0},
      {"s":"1000nm","p":"b","i":0,"x":0,"y":0},{"s":"1000nm","p":"b","i":1,"x":-0.02,"y":0.025},{"s":"1000nm","p":"b","i":2,"x":-0.04,"y":0},{"s":"1000nm","p":"b","i":3,"x":-0.02,"y":-0.025},{"s":"1000nm","p":"b","i":4,"x":0,"y":0},
      {"s":"1100nm","p":"m","i":0,"x":0,"y":0},{"s":"1100nm","p":"m","i":1,"x":0.044,"y":0.03},{"s":"1100nm","p":"m","i":2,"x":0.105,"y":0.073},{"s":"1100nm","p":"m","i":3,"x":0.193,"y":0.11},{"s":"1100nm","p":"m","i":4,"x":0.316,"y":0.139},{"s":"1100nm","p":"m","i":5,"x":0.457,"y":0.151},{"s":"1100nm","p":"m","i":6,"x":0.597,"y":0.144},{"s":"1100nm","p":"m","i":7,"x":0.72,"y":0.115},{"s":"1100nm","p":"m","i":8,"x":0.808,"y":0.076},{"s":"1100nm","p":"m","i":9,"x":0.878,"y":0},{"s":"1100nm","p":"m","i":10,"x":0.808,"y":-0.076},{"s":"1100nm","p":"m","i":11,"x":0.72,"y":-0.115},{"s":"1100nm","p":"m","i":12,"x":0.597,"y":-0.144},{"s":"1100nm","p":"m","i":13,"x":0.457,"y":-0.151},{"s":"1100nm","p":"m","i":14,"x":0.316,"y":-0.139},{"s":"1100nm","p":"m","i":15,"x":0.193,"y":-0.11},{"s":"1100nm","p":"m","i":16,"x":0.105,"y":-0.073},{"s":"1100nm","p":"m","i":17,"x":0.044,"y":-0.03},{"s":"1100nm","p":"m","i":18,"x":0,"y":0}
    ],
    "pf": [
      {"s":"10 nm","p":"m","i":0,"x":0,"y":0},{"s":"10 nm","p":"m","i":1,"x":0.046,"y":0.029},{"s":"10 nm","p":"m","i":2,"x":0.11,"y":0.06},{"s":"10 nm","p":"m","i":3,"x":0.202,"y":0.09},{"s":"10 nm","p":"m","i":4,"x":0.322,"y":0.108},{"s":"10 nm","p":"m","i":5,"x":0.46,"y":0.115},{"s":"10 nm","p":"m","i":6,"x":0.598,"y":0.112},{"s":"10 nm","p":"m","i":7,"x":0.736,"y":0.098},{"s":"10 nm","p":"m","i":8,"x":0.828,"y":0.069},{"s":"10 nm","p":"m","i":9,"x":0.92,"y":0},{"s":"10 nm","p":"m","i":10,"x":0.828,"y":-0.069},{"s":"10 nm","p":"m","i":11,"x":0.736,"y":-0.098},{"s":"10 nm","p":"m","i":12,"x":0.598,"y":-0.112},{"s":"10 nm","p":"m","i":13,"x":0.46,"y":-0.115},{"s":"10 nm","p":"m","i":14,"x":0.322,"y":-0.108},{"s":"10 nm","p":"m","i":15,"x":0.202,"y":-0.09},{"s":"10 nm","p":"m","i":16,"x":0.11,"y":-0.06},{"s":"10 nm","p":"m","i":17,"x":0.046,"y":-0.029},{"s":"10 nm","p":"m","i":18,"x":0,"y":0},
      {"s":"12 nm","p":"m","i":0,"x":0,"y":0},{"s":"12 nm","p":"m","i":1,"x":0.046,"y":0.028},{"s":"12 nm","p":"m","i":2,"x":0.11,"y":0.059},{"s":"12 nm","p":"m","i":3,"x":0.201,"y":0.088},{"s":"12 nm","p":"m","i":4,"x":0.32,"y":0.106},{"s":"12 nm","p":"m","i":5,"x":0.458,"y":0.113},{"s":"12 nm","p":"m","i":6,"x":0.595,"y":0.11},{"s":"12 nm","p":"m","i":7,"x":0.732,"y":0.096},{"s":"12 nm","p":"m","i":8,"x":0.824,"y":0.068},{"s":"12 nm","p":"m","i":9,"x":0.915,"y":0},{"s":"12 nm","p":"m","i":10,"x":0.824,"y":-0.068},{"s":"12 nm","p":"m","i":11,"x":0.732,"y":-0.096},{"s":"12 nm","p":"m","i":12,"x":0.595,"y":-0.11},{"s":"12 nm","p":"m","i":13,"x":0.458,"y":-0.113},{"s":"12 nm","p":"m","i":14,"x":0.32,"y":-0.106},{"s":"12 nm","p":"m","i":15,"x":0.201,"y":-0.088},{"s":"12 nm","p":"m","i":16,"x":0.11,"y":-0.059},{"s":"12 nm","p":"m","i":17,"x":0.046,"y":-0.028},{"s":"12 nm","p":"m","i":18,"x":0,"y":0},
      {"s":"12 nm","p":"b","i":0,"x":0,"y":0},{"s":"12 nm","p":"b","i":1,"x":-0.015,"y":0.04},{"s":"12 nm","p":"b","i":2,"x":-0.04,"y":0.015},{"s":"12 nm","p":"b","i":3,"x":-0.045,"y":0},{"s":"12 nm","p":"b","i":4,"x":-0.04,"y":-0.015},{"s":"12 nm","p":"b","i":5,"x":-0.015,"y":-0.04},{"s":"12 nm","p":"b","i":6,"x":0,"y":0},
      {"s":"15 nm","p":"m","i":0,"x":0,"y":0},{"s":"15 nm","p":"m","i":1,"x":0.045,"y":0.03},{"s":"15 nm","p":"m","i":2,"x":0.109,"y":0.063},{"s":"15 nm","p":"m","i":3,"x":0.2,"y":0.094},{"s":"15 nm","p":"m","i":4,"x":0.318,"y":0.114},{"s":"15 nm","p":"m","i":5,"x":0.454,"y":0.121},{"s":"15 nm","p":"m","i":6,"x":0.59,"y":0.117},{"s":"15 nm","p":"m","i":7,"x":0.726,"y":0.103},{"s":"15 nm","p":"m","i":8,"x":0.817,"y":0.073},{"s":"15 nm","p":"m","i":9,"x":0.908,"y":0},{"s":"15 nm","p":"m","i":10,"x":0.817,"y":-0.073},{"s":"15 nm","p":"m","i":11,"x":0.726,"y":-0.103},{"s":"15 nm","p":"m","i":12,"x":0.59,"y":-0.117},{"s":"15 nm","p":"m","i":13,"x":0.454,"y":-0.121},{"s":"15 nm","p":"m","i":14,"x":0.318,"y":-0.114},{"s":"15 nm","p":"m","i":15,"x":0.2,"y":-0.094},{"s":"15 nm","p":"m","i":16,"x":0.109,"y":-0.063},{"s":"15 nm","p":"m","i":17,"x":0.045,"y":-0.03},{"s":"15 nm","p":"m","i":18,"x":0,"y":0},
      {"s":"17 nm","p":"m","i":0,"x":0,"y":0},{"s":"17 nm","p":"m","i":1,"x":0.042,"y":0.028},{"s":"17 nm","p":"m","i":2,"x":0.101,"y":0.058},{"s":"17 nm","p":"m","i":3,"x":0.186,"y":0.087},{"s":"17 nm","p":"m","i":4,"x":0.296,"y":0.105},{"s":"17 nm","p":"m","i":5,"x":0.423,"y":0.112},{"s":"17 nm","p":"m","i":6,"x":0.549,"y":0.109},{"s":"17 nm","p":"m","i":7,"x":0.676,"y":0.095},{"s":"17 nm","p":"m","i":8,"x":0.761,"y":0.067},{"s":"17 nm","p":"m","i":9,"x":0.845,"y":0},{"s":"17 nm","p":"m","i":10,"x":0.761,"y":-0.067},{"s":"17 nm","p":"m","i":11,"x":0.676,"y":-0.095},{"s":"17 nm","p":"m","i":12,"x":0.549,"y":-0.109},{"s":"17 nm","p":"m","i":13,"x":0.423,"y":-0.112},{"s":"17 nm","p":"m","i":14,"x":0.296,"y":-0.105},{"s":"17 nm","p":"m","i":15,"x":0.186,"y":-0.087},{"s":"17 nm","p":"m","i":16,"x":0.101,"y":-0.058},{"s":"17 nm","p":"m","i":17,"x":0.042,"y":-0.028},{"s":"17 nm","p":"m","i":18,"x":0,"y":0},
      {"s":"17 nm","p":"b","i":0,"x":0,"y":0},{"s":"17 nm","p":"b","i":1,"x":-0.025,"y":0.025},{"s":"17 nm","p":"b","i":2,"x":-0.05,"y":0},{"s":"17 nm","p":"b","i":3,"x":-0.025,"y":-0.025},{"s":"17 nm","p":"b","i":4,"x":0,"y":0}
    ]
  },
  "spacing": 1126,
  "bounds": "flush",
  "resolve": {"scale": {"color": "independent", "radius": "independent"}, "legend": {"color": "independent"}},
  "vconcat": [
    {
      "spacing": 473,
      "bounds": "flush",
      "resolve": {"scale": {"color": "independent", "radius": "independent"}, "legend": {"color": "independent"}},
      "hconcat": [
        {
          "width": 1510,
          "height": 692,
          "view": {"stroke": "#8c8c8c", "strokeWidth": 3},
          "title": {"text": "(a)", "anchor": "start", "frame": "group", "dx": -177, "offset": 57, "baseline": "middle", "font": "Liberation Serif", "fontSize": 86, "fontWeight": "normal", "color": "#000000"},
          "layer": [
            {
              "data": {"name": "la"},
              "mark": {"type": "line", "strokeWidth": 5, "interpolate": "monotone"},
              "encoding": {
                "x": {"field": "w", "type": "quantitative", "scale": {"domain": [500, 1500], "nice": false, "zero": false},
                  "axis": {"values": [500, 700, 900, 1100, 1300, 1500], "format": "d", "title": "Wavelength (nm)", "grid": false, "domain": false, "tickColor": "#8c8c8c", "tickSize": -16, "tickWidth": 2.5, "labelFontSize": 66, "titleFontSize": 66, "titleFontWeight": "normal", "labelColor": "#111111", "titleColor": "#111111", "labelPadding": 46, "titlePadding": 26, "labelFlush": false, "labelOverlap": false}},
                "y": {"field": "f", "type": "quantitative", "scale": {"domain": [0, 2500], "nice": false, "zero": false},
                  "axis": {"values": [0, 500, 1000, 1500, 2000, 2500], "format": "d", "title": "Fp", "grid": false, "domain": false, "tickColor": "#8c8c8c", "tickSize": -16, "tickWidth": 2.5, "labelFontSize": 66, "titleFontSize": 66, "titleFontWeight": "normal", "labelColor": "#111111", "titleColor": "#111111", "labelPadding": 39, "titlePadding": 5, "labelFlush": false, "labelOverlap": false}},
                "color": {"field": "s", "type": "nominal", "scale": {"domain": ["800 nm", "900 nm", "1000 nm", "1100 nm"], "range": ["#0072BD", "#FF3F1C", "#FFAB00", "#7E2F8E"]},
                  "legend": {"title": null, "orient": "top-left", "offset": 0, "padding": 8, "rowPadding": 17, "labelFontSize": 61, "labelLimit": 0, "labelColor": "#111111", "symbolType": "stroke", "symbolSize": 2500, "symbolStrokeWidth": 5, "labelOffset": 1, "strokeColor": "#999999", "fillColor": "#ffffff"}}
              }
            },
            {
              "data": {"values": [{"w": 500, "f": 0}]},
              "mark": {"type": "point", "opacity": 0},
              "encoding": {
                "x": {"field": "w", "type": "quantitative", "axis": {"orient": "top", "values": [500, 700, 900, 1100, 1300, 1500], "labels": false, "title": null, "grid": false, "domain": false, "tickColor": "#8c8c8c", "tickSize": -16, "tickWidth": 2.5}},
                "y": {"field": "f", "type": "quantitative", "axis": {"orient": "right", "values": [0, 500, 1000, 1500, 2000, 2500], "labels": false, "title": null, "grid": false, "domain": false, "tickColor": "#8c8c8c", "tickSize": -16, "tickWidth": 2.5}}
              }
            }
          ],
          "resolve": {"axis": {"x": "independent", "y": "independent"}}
        },
        {
          "width": 632,
          "height": 786,
          "title": {"text": "(b)", "anchor": "start", "frame": "group", "dx": -137, "offset": 90, "baseline": "middle", "font": "Liberation Serif", "fontSize": 86, "fontWeight": "normal", "color": "#000000"},
          "encoding": {
            "x": {"field": "x", "type": "quantitative", "scale": {"domain": [-1, 1], "nice": false, "zero": false}, "axis": null},
            "y": {"field": "y", "type": "quantitative", "scale": {"domain": [-1.2437, 1.2437], "nice": false, "zero": false}, "axis": null}
          },
          "layer": [
            {"data": {"name": "rb"}, "mark": {"type": "arc", "filled": false, "color": "#555555", "strokeWidth": 3, "strokeDash": [5, 7], "theta": 0, "theta2": 6.2832},
              "encoding": {"radius": {"field": "r", "type": "quantitative", "stack": null, "scale": {"type": "linear", "domain": [0, 1], "range": [0, 316]}}}},
            {"data": {"name": "spk"}, "mark": {"type": "rule", "color": "#555555", "strokeWidth": 3, "strokeDash": [5, 7]},
              "encoding": {"x2": {"field": "x2"}, "y2": {"field": "y2"}}},
            {"data": {"name": "ro"}, "mark": {"type": "arc", "filled": false, "color": "#8a8a8a", "strokeWidth": 3.5, "theta": 0, "theta2": 6.2832},
              "encoding": {"radius": {"field": "r", "type": "quantitative", "stack": null, "scale": {"type": "linear", "domain": [0, 1], "range": [0, 316]}}}},
            {"data": {"name": "lab"}, "mark": {"type": "text", "fontSize": 41, "color": "#111111"},
              "encoding": {"text": {"field": "t"}}},
            {"data": {"name": "pb"}, "mark": {"type": "line", "strokeWidth": 5, "interpolate": "catmull-rom"},
              "encoding": {
                "color": {"field": "s", "type": "nominal", "scale": {"domain": ["800nm", "900nm", "1000nm", "1100nm"], "range": ["#FF0000", "#0000FF", "#FF00FF", "#00CC33"]},
                  "legend": {"title": null, "orient": "none", "legendX": 760, "legendY": 293, "padding": 8, "rowPadding": 10, "labelFontSize": 37, "labelLimit": 0, "labelColor": "#111111", "symbolType": "stroke", "symbolSize": 1600, "symbolStrokeWidth": 5, "labelOffset": 2, "strokeColor": "#444444", "fillColor": "#ffffff"}},
                "detail": {"field": "p"},
                "order": {"field": "i", "type": "quantitative"}
              }}
          ]
        }
      ]
    },
    {
      "spacing": 486,
      "bounds": "flush",
      "resolve": {"scale": {"color": "independent", "radius": "independent"}, "legend": {"color": "independent"}},
      "hconcat": [
        {
          "width": 1510,
          "height": 689,
          "view": {"stroke": "#8c8c8c", "strokeWidth": 3},
          "title": {"text": "(c)", "anchor": "start", "frame": "group", "dx": -177, "offset": 56, "baseline": "middle", "font": "Liberation Serif", "fontSize": 86, "fontWeight": "normal", "color": "#000000"},
          "layer": [
            {
              "data": {"name": "lc"},
              "mark": {"type": "line", "strokeWidth": 7.5, "interpolate": "monotone"},
              "encoding": {
                "x": {"field": "w", "type": "quantitative", "scale": {"domain": [500, 1500], "nice": false, "zero": false},
                  "axis": {"values": [500, 750, 1000, 1250, 1500], "format": "d", "title": "Wavelength (nm)", "grid": false, "domain": false, "tickColor": "#8c8c8c", "tickSize": -16, "tickWidth": 2.5, "labelFontSize": 66, "titleFontSize": 66, "titleFontWeight": "normal", "labelColor": "#111111", "titleColor": "#111111", "labelPadding": 46, "titlePadding": 26, "labelFlush": false, "labelOverlap": false}},
                "y": {"field": "f", "type": "quantitative", "scale": {"domain": [0, 3000], "nice": false, "zero": false},
                  "axis": {"values": [0, 1000, 2000, 3000], "format": "d", "title": "Fp", "grid": false, "domain": false, "tickColor": "#8c8c8c", "tickSize": -16, "tickWidth": 2.5, "labelFontSize": 66, "titleFontSize": 66, "titleFontWeight": "normal", "labelColor": "#111111", "titleColor": "#111111", "labelPadding": 39, "titlePadding": 5, "labelFlush": false, "labelOverlap": false}},
                "color": {"field": "s", "type": "nominal", "scale": {"domain": ["10 nm", "12 nm", "15 nm", "17 nm"], "range": ["#0072BD", "#FF3F1C", "#FFAB00", "#7E2F8E"]},
                  "legend": {"title": null, "orient": "top-left", "offset": 0, "padding": 8, "rowPadding": 17, "labelFontSize": 61, "labelLimit": 0, "labelColor": "#111111", "symbolType": "stroke", "symbolSize": 2304, "symbolStrokeWidth": 7.5, "labelOffset": 1, "strokeColor": "#999999", "fillColor": "#ffffff"}}
              }
            },
            {
              "data": {"values": [{"w": 500, "f": 0}]},
              "mark": {"type": "point", "opacity": 0},
              "encoding": {
                "x": {"field": "w", "type": "quantitative", "axis": {"orient": "top", "values": [500, 750, 1000, 1250, 1500], "labels": false, "title": null, "grid": false, "domain": false, "tickColor": "#8c8c8c", "tickSize": -16, "tickWidth": 2.5}},
                "y": {"field": "f", "type": "quantitative", "axis": {"orient": "right", "values": [0, 1000, 2000, 3000], "labels": false, "title": null, "grid": false, "domain": false, "tickColor": "#8c8c8c", "tickSize": -16, "tickWidth": 2.5}}
              }
            }
          ],
          "resolve": {"axis": {"x": "independent", "y": "independent"}}
        },
        {
          "width": 638,
          "height": 776,
          "title": {"text": "(d)", "anchor": "start", "frame": "group", "dx": -150, "offset": 89, "baseline": "middle", "font": "Liberation Serif", "fontSize": 86, "fontWeight": "normal", "color": "#000000"},
          "encoding": {
            "x": {"field": "x", "type": "quantitative", "scale": {"domain": [-1, 1], "nice": false, "zero": false}, "axis": null},
            "y": {"field": "y", "type": "quantitative", "scale": {"domain": [-1.2163, 1.2163], "nice": false, "zero": false}, "axis": null}
          },
          "layer": [
            {"data": {"name": "rd"}, "mark": {"type": "arc", "filled": false, "color": "#555555", "strokeWidth": 3, "strokeDash": [5, 7], "theta": 0, "theta2": 6.2832},
              "encoding": {"radius": {"field": "r", "type": "quantitative", "stack": null, "scale": {"type": "linear", "domain": [0, 1], "range": [0, 319]}}}},
            {"data": {"name": "spk"}, "mark": {"type": "rule", "color": "#555555", "strokeWidth": 3, "strokeDash": [5, 7]},
              "encoding": {"x2": {"field": "x2"}, "y2": {"field": "y2"}}},
            {"data": {"name": "ro"}, "mark": {"type": "arc", "filled": false, "color": "#8a8a8a", "strokeWidth": 3.5, "theta": 0, "theta2": 6.2832},
              "encoding": {"radius": {"field": "r", "type": "quantitative", "stack": null, "scale": {"type": "linear", "domain": [0, 1], "range": [0, 319]}}}},
            {"data": {"name": "lab"}, "mark": {"type": "text", "fontSize": 41, "color": "#111111"},
              "encoding": {"text": {"field": "t"}}},
            {"data": {"name": "pd"}, "mark": {"type": "line", "strokeWidth": 5, "interpolate": "catmull-rom"},
              "encoding": {
                "color": {"field": "s", "type": "nominal", "scale": {"domain": ["10 nm", "12 nm", "15 nm", "17 nm"], "range": ["#0000FF", "#FF0000", "#FF00FF", "#00CC33"]},
                  "legend": {"title": null, "orient": "none", "legendX": 764, "legendY": 290, "padding": 8, "rowPadding": 10, "labelFontSize": 37, "labelLimit": 0, "labelColor": "#111111", "symbolType": "stroke", "symbolSize": 1600, "symbolStrokeWidth": 5, "labelOffset": 2, "strokeColor": "#444444", "fillColor": "#ffffff"}},
                "detail": {"field": "p"},
                "order": {"field": "i", "type": "quantitative"}
              }}
          ]
        }
      ]
    },
    {
      "spacing": 844,
      "bounds": "flush",
      "resolve": {"scale": {"color": "independent", "radius": "independent"}, "legend": {"color": "independent"}},
      "hconcat": [
        {
          "width": 1050,
          "height": 700,
          "title": {"text": "(e)", "anchor": "start", "frame": "group", "dx": 98, "offset": -15, "baseline": "middle", "font": "Liberation Serif", "fontSize": 86, "fontWeight": "normal", "color": "#000000"},
          "encoding": {
            "x": {"field": "x", "type": "quantitative", "scale": {"domain": [-1.9577, 1], "nice": false, "zero": false}, "axis": null},
            "y": {"field": "y", "type": "quantitative", "scale": {"domain": [-1.0394, 0.9324], "nice": false, "zero": false}, "axis": null}
          },
          "layer": [
            {"data": {"name": "re"}, "mark": {"type": "arc", "filled": false, "color": "#555555", "strokeWidth": 3, "strokeDash": [5, 7], "theta": 0, "theta2": 6.2832},
              "encoding": {"radius": {"field": "r", "type": "quantitative", "stack": null, "scale": {"type": "linear", "domain": [0, 1], "range": [0, 355]}}}},
            {"data": {"name": "spk"}, "mark": {"type": "rule", "color": "#555555", "strokeWidth": 3, "strokeDash": [5, 7]},
              "encoding": {"x2": {"field": "x2"}, "y2": {"field": "y2"}}},
            {"data": {"name": "ro"}, "mark": {"type": "arc", "filled": false, "color": "#777777", "strokeWidth": 3.5, "theta": 0, "theta2": 6.2832},
              "encoding": {"radius": {"field": "r", "type": "quantitative", "stack": null, "scale": {"type": "linear", "domain": [0, 1], "range": [0, 355]}}}},
            {"data": {"name": "lab"}, "mark": {"type": "text", "fontSize": 46, "color": "#111111"},
              "encoding": {"text": {"field": "t"}}},
            {"data": {"name": "pe"}, "mark": {"type": "line", "strokeWidth": 5, "interpolate": "catmull-rom"},
              "encoding": {
                "color": {"field": "s", "type": "nominal", "scale": {"domain": ["800nm", "900nm", "1000nm", "1100nm"], "range": ["#FF0000", "#0000FF", "#FF00FF", "#00CC33"]},
                  "legend": {"title": null, "orient": "none", "legendX": 1193, "legendY": 226, "padding": 8, "rowPadding": 10, "labelFontSize": 43, "labelLimit": 0, "labelColor": "#111111", "symbolType": "stroke", "symbolSize": 1600, "symbolStrokeWidth": 5, "labelOffset": 2, "strokeColor": "#444444", "fillColor": "#ffffff"}},
                "detail": {"field": "p"},
                "order": {"field": "i", "type": "quantitative"}
              }}
          ]
        },
        {
          "width": 710,
          "height": 700,
          "title": {"text": "(f)", "anchor": "start", "frame": "group", "dx": -252, "offset": -15, "baseline": "middle", "font": "Liberation Serif", "fontSize": 86, "fontWeight": "normal", "color": "#000000"},
          "encoding": {
            "x": {"field": "x", "type": "quantitative", "scale": {"domain": [-1, 1], "nice": false, "zero": false}, "axis": null},
            "y": {"field": "y", "type": "quantitative", "scale": {"domain": [-1.0394, 0.9324], "nice": false, "zero": false}, "axis": null}
          },
          "layer": [
            {"data": {"name": "re"}, "mark": {"type": "arc", "filled": false, "color": "#555555", "strokeWidth": 3, "strokeDash": [5, 7], "theta": 0, "theta2": 6.2832},
              "encoding": {"radius": {"field": "r", "type": "quantitative", "stack": null, "scale": {"type": "linear", "domain": [0, 1], "range": [0, 355]}}}},
            {"data": {"name": "spk"}, "mark": {"type": "rule", "color": "#555555", "strokeWidth": 3, "strokeDash": [5, 7]},
              "encoding": {"x2": {"field": "x2"}, "y2": {"field": "y2"}}},
            {"data": {"name": "ro"}, "mark": {"type": "arc", "filled": false, "color": "#777777", "strokeWidth": 3.5, "theta": 0, "theta2": 6.2832},
              "encoding": {"radius": {"field": "r", "type": "quantitative", "stack": null, "scale": {"type": "linear", "domain": [0, 1], "range": [0, 355]}}}},
            {"data": {"name": "lab"}, "mark": {"type": "text", "fontSize": 46, "color": "#111111"},
              "encoding": {"text": {"field": "t"}}},
            {"data": {"name": "pf"}, "mark": {"type": "line", "strokeWidth": 5, "interpolate": "catmull-rom"},
              "encoding": {
                "color": {"field": "s", "type": "nominal", "scale": {"domain": ["10 nm", "12 nm", "15 nm", "17 nm"], "range": ["#0000FF", "#FF0000", "#FF00FF", "#00CC33"]},
                  "legend": {"title": null, "orient": "none", "legendX": 849, "legendY": 219, "padding": 8, "rowPadding": 14, "labelFontSize": 40, "labelLimit": 0, "labelColor": "#111111", "symbolType": "stroke", "symbolSize": 2116, "symbolStrokeWidth": 5, "labelOffset": 2, "strokeColor": "#444444", "fillColor": "#ffffff"}},
                "detail": {"field": "p"},
                "order": {"field": "i", "type": "quantitative"}
              }}
          ]
        }
      ]
    }
  ]
}
